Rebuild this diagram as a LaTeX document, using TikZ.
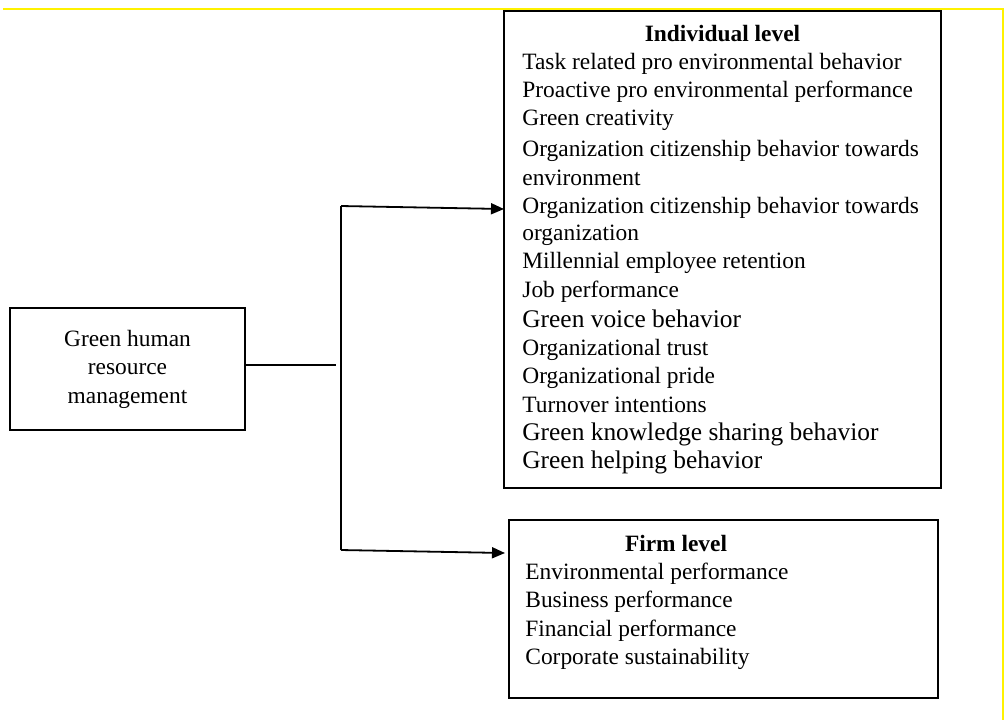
\documentclass[tikz,border=0pt]{standalone}
\usepackage{fontspec}
\setmainfont{Liberation Serif}
\usetikzlibrary{arrows.meta}

\begin{document}
\begin{tikzpicture}[x=0.5pt, y=-0.5pt,
        box/.style = {draw, line width=1.2pt, inner sep=0pt},
        head/.style = {anchor=base, inner sep=0pt, font=\fontsize{11.7}{14}\selectfont\bfseries},
        item/.style = {anchor=base west, inner sep=0pt, font=\fontsize{11.7}{14}\selectfont},
        link/.style = {line width=0.6pt},
        arr/.style = {line width=0.9pt, -{Triangle[length=6.5pt, width=5.5pt]}}]
        \useasboundingbox (0,0) rectangle (1006,720);
        \draw[yellow, line width=0.8pt] (3,9) -- (1003,9) -- (1003,720);

        \node[box, minimum width=117.5pt, minimum height=61pt, align=center, font=\fontsize{11.7}{14.25}\selectfont] (ghrm) at (127.5,369) {Green human\\resource\\management};
        \node[box, minimum width=218.5pt, minimum height=238.5pt] (ind) at (722.5,249.5) {};
        \node[box, minimum width=214.5pt, minimum height=89pt] (firm) at (723.5,609) {};

        \node[head] (indt) at (722.5,41) {Individual level};
        \foreach \y/\txt [count=\i] in {69/Task related pro environmental behavior,
                97/Proactive pro environmental performance,
                125/Green creativity,
                156/Organization citizenship behavior towards,
                185/environment,
                213/Organization citizenship behavior towards,
                240/organization,
                268/Millennial employee retention,
                297/Job performance,
                327/{\fontsize{12.7}{15}\selectfont Green voice behavior},
                355/Organizational trust,
                383/Organizational pride,
                412/Turnover intentions,
                440/{\fontsize{12.7}{15}\selectfont Green knowledge sharing behavior},
                468/{\fontsize{12.7}{15}\selectfont Green helping behavior}}
            \node[item] (indl\i) at (522,\y) {\txt};

        \node[head] (firmt) at (676,551) {Firm level};
        \foreach \y/\txt [count=\i] in {579/Environmental performance,
                607/Business performance,
                636/Financial performance,
                664/Corporate sustainability}
            \node[item] (firml\i) at (525,\y) {\txt};

        \coordinate (hend) at (336,365);
        \coordinate (jtop) at (341,206);
        \coordinate (jbot) at (341,550);
        \coordinate (tipi) at (504,209);
        \coordinate (tipf) at (505,553);

        \draw[link] (ghrm.east |- hend) -- (hend);
        \draw[link] (jtop) -- (jbot);
        \draw[arr] (jtop) -- (tipi);
        \draw[arr] (jbot) -- (tipf);
    \end{tikzpicture}
\end{document}
